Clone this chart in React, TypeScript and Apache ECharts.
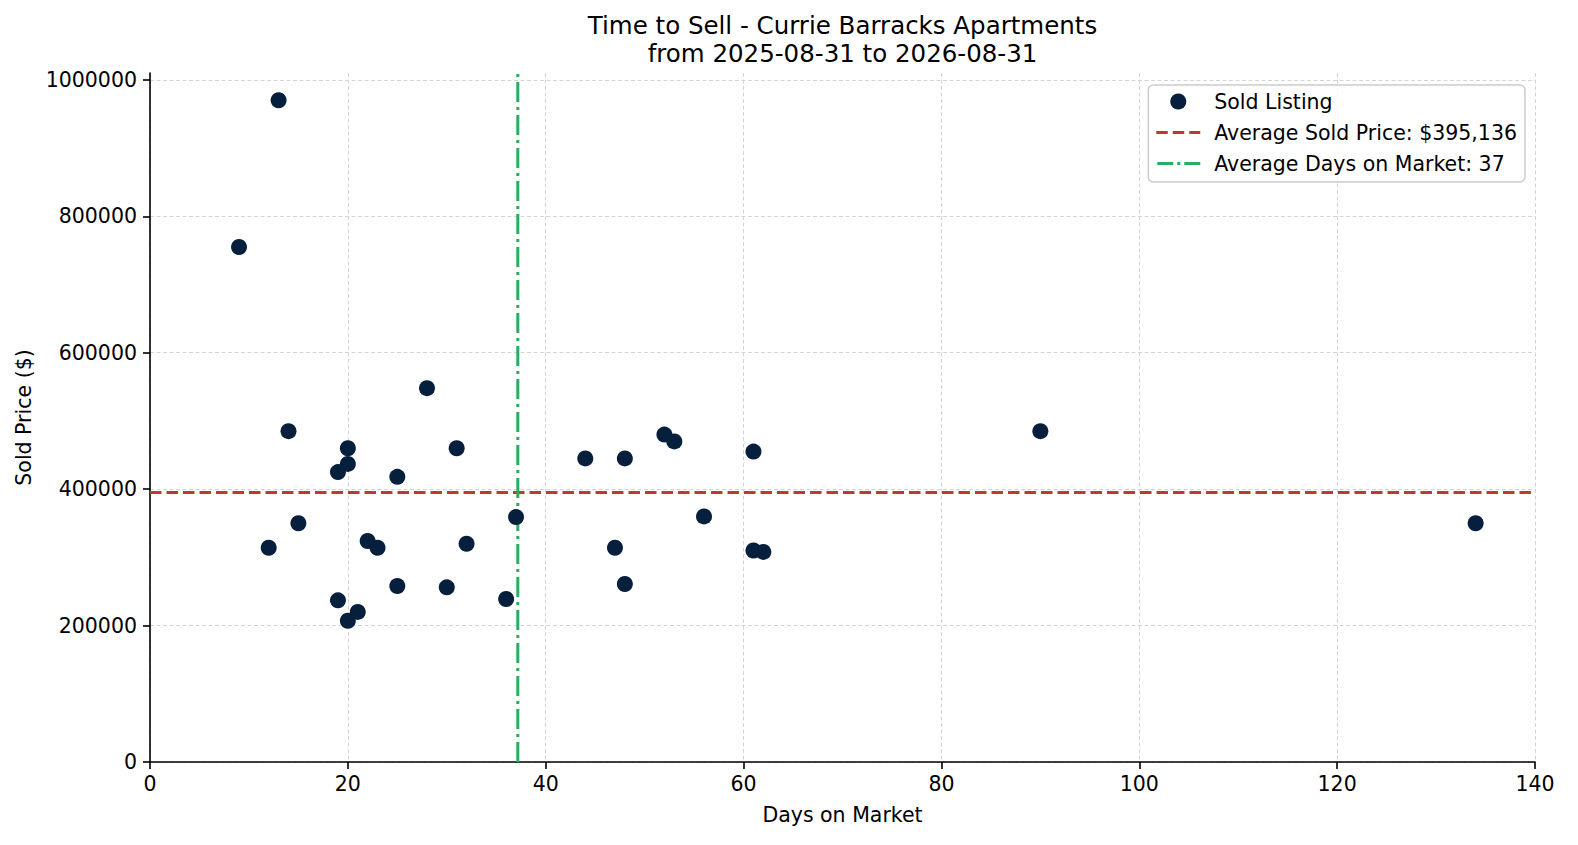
import React, { useEffect, useRef } from "react";
import * as echarts from "echarts";

// Sold listings: days on market and sold price
const DAYS = [9, 13, 12, 14, 15, 19, 20, 20, 19, 20, 21, 22, 23, 25, 25, 28, 30, 31, 32, 36, 37, 44, 47, 48, 48, 52, 53, 56, 61, 61, 62, 90, 134];
const PRICES = [755000, 970000, 314000, 485000, 350000, 425000, 460000, 437000, 237000, 207000, 220000, 324000, 314000, 418000, 258000, 548000, 256000, 460000, 320000, 239000, 359000, 445000, 314000, 445000, 261000, 480000, 470000, 360000, 455000, 310000, 308000, 485000, 350000];

const AVG_PRICE = 395136;
const AVG_DAYS = 37.18;

const X_MAX = 140;
const Y_MAX = 1010000;
const Y_TICKS = [0, 200000, 400000, 600000, 800000, 1000000];

const FONT = "DejaVu Sans";

// legend icons (44 x 16 box, marks in the middle band)
const CORNERS = "M0,0h0.01v0.01h-0.01z M44,16h-0.01v-0.01h0.01z ";
const DASH_ICON = "path://" + CORNERS + "M0,6.5h11.5v3h-11.5z M16.5,6.5h11.5v3h-11.5z M33,6.5h11v3h-11z";
const DASHDOT_ICON = "path://" + CORNERS + "M1,6.5h16v3h-16z M21,6.5h3v3h-3z M28,6.5h16v3h-16z";

const App: React.FC = () => {
  const ref = useRef<HTMLDivElement>(null);

  useEffect(() => {
    if (!ref.current) return;
    document.body.style.margin = "0";
    const chart = echarts.init(ref.current, undefined, { renderer: "svg" });

    const points = DAYS.map((d, i) => [d, PRICES[i]]);

    chart.setOption({
      animation: false,
      backgroundColor: "#ffffff",
      textStyle: { fontFamily: FONT },
      title: {
        text: "Time to Sell - Currie Barracks Apartments\nfrom 2025-08-31 to 2026-08-31",
        left: 842.5,
        top: 11,
        padding: 0,
        textAlign: "center",
        textStyle: {
          fontFamily: FONT,
          fontSize: 24.5,
          fontWeight: "normal",
          color: "#000",
          lineHeight: 28,
          align: "center",
        },
      },
      legend: {
        orient: "vertical",
        right: 53,
        top: 85,
        padding: [6, 8, 8, 8],
        itemGap: 10,
        itemWidth: 44,
        itemHeight: 16,
        backgroundColor: "rgba(255,255,255,0.8)",
        borderColor: "#cccccc",
        borderWidth: 1.5,
        borderRadius: 5,
        textStyle: {
          fontFamily: FONT,
          fontSize: 20.5,
          color: "#000",
          lineHeight: 20,
          padding: [0, 0, 0, 9],
        },
        data: [
          { name: "Sold Listing", icon: "circle" },
          { name: "Average Sold Price: $395,136", icon: DASH_ICON, itemStyle: { color: "#c0392b" } },
          { name: "Average Days on Market: 37", icon: DASHDOT_ICON, itemStyle: { color: "#27ae60" } },
        ],
      },
      grid: { left: 150, right: 43, top: 73, bottom: 83, outerBoundsMode: "none" },
      xAxis: {
        type: "value",
        min: 0,
        max: X_MAX,
        interval: 20,
        name: "Days on Market",
        nameLocation: "middle",
        nameGap: 42,
        nameTextStyle: { fontFamily: FONT, fontSize: 20.5, color: "#000" },
        axisLine: { lineStyle: { color: "#000", width: 1.6 } },
        axisTick: { show: true, length: 7, lineStyle: { color: "#000", width: 1.6 } },
        axisLabel: { margin: 11, fontFamily: FONT, fontSize: 20.5, color: "#000" },
        splitLine: { show: true, lineStyle: { color: "#d4d4d4", width: 1, type: [4, 2.5] } },
      },
      yAxis: {
        type: "value",
        min: 0,
        max: Y_MAX,
        interval: 200000,
        name: "Sold Price ($)",
        nameLocation: "middle",
        nameGap: 108,
        nameTextStyle: { fontFamily: FONT, fontSize: 20.5, color: "#000" },
        axisLine: { show: true, lineStyle: { color: "#000", width: 1.6 } },
        axisTick: { show: true, length: 7, customValues: Y_TICKS, lineStyle: { color: "#000", width: 1.6 } },
        axisLabel: {
          margin: 13,
          customValues: Y_TICKS,
          fontFamily: FONT,
          fontSize: 20.5,
          color: "#000",
          formatter: (v: number) => String(v),
        },
        splitLine: { show: true, lineStyle: { color: "#d4d4d4", width: 1, type: [4, 2.5] } },
      },
      series: [
        {
          name: "Sold Listing",
          type: "scatter",
          symbol: "circle",
          symbolSize: 16,
          itemStyle: { color: "#051f3d", opacity: 1 },
          data: points,
          z: 3,
        },
        {
          name: "Average Sold Price: $395,136",
          type: "line",
          symbol: "none",
          lineStyle: { color: "#c0392b", width: 3, type: [11.5, 5] },
          itemStyle: { color: "#c0392b" },
          data: [
            [0, AVG_PRICE],
            [X_MAX, AVG_PRICE],
          ],
          z: 2,
        },
        {
          name: "Average Days on Market: 37",
          type: "line",
          symbol: "none",
          lineStyle: { color: "#27ae60", width: 3, type: [20, 5, 3, 5] },
          itemStyle: { color: "#27ae60" },
          data: [
            [AVG_DAYS, 0],
            [AVG_DAYS, Y_MAX],
          ],
          z: 2,
        },
      ],
    });

    return () => chart.dispose();
  }, []);

  return (
    <div
      ref={ref}
      style={{ position: "fixed", left: 0, top: 0, width: "100vw", height: "100vh", background: "#fff" }}
    />
  );
};

export default App;
